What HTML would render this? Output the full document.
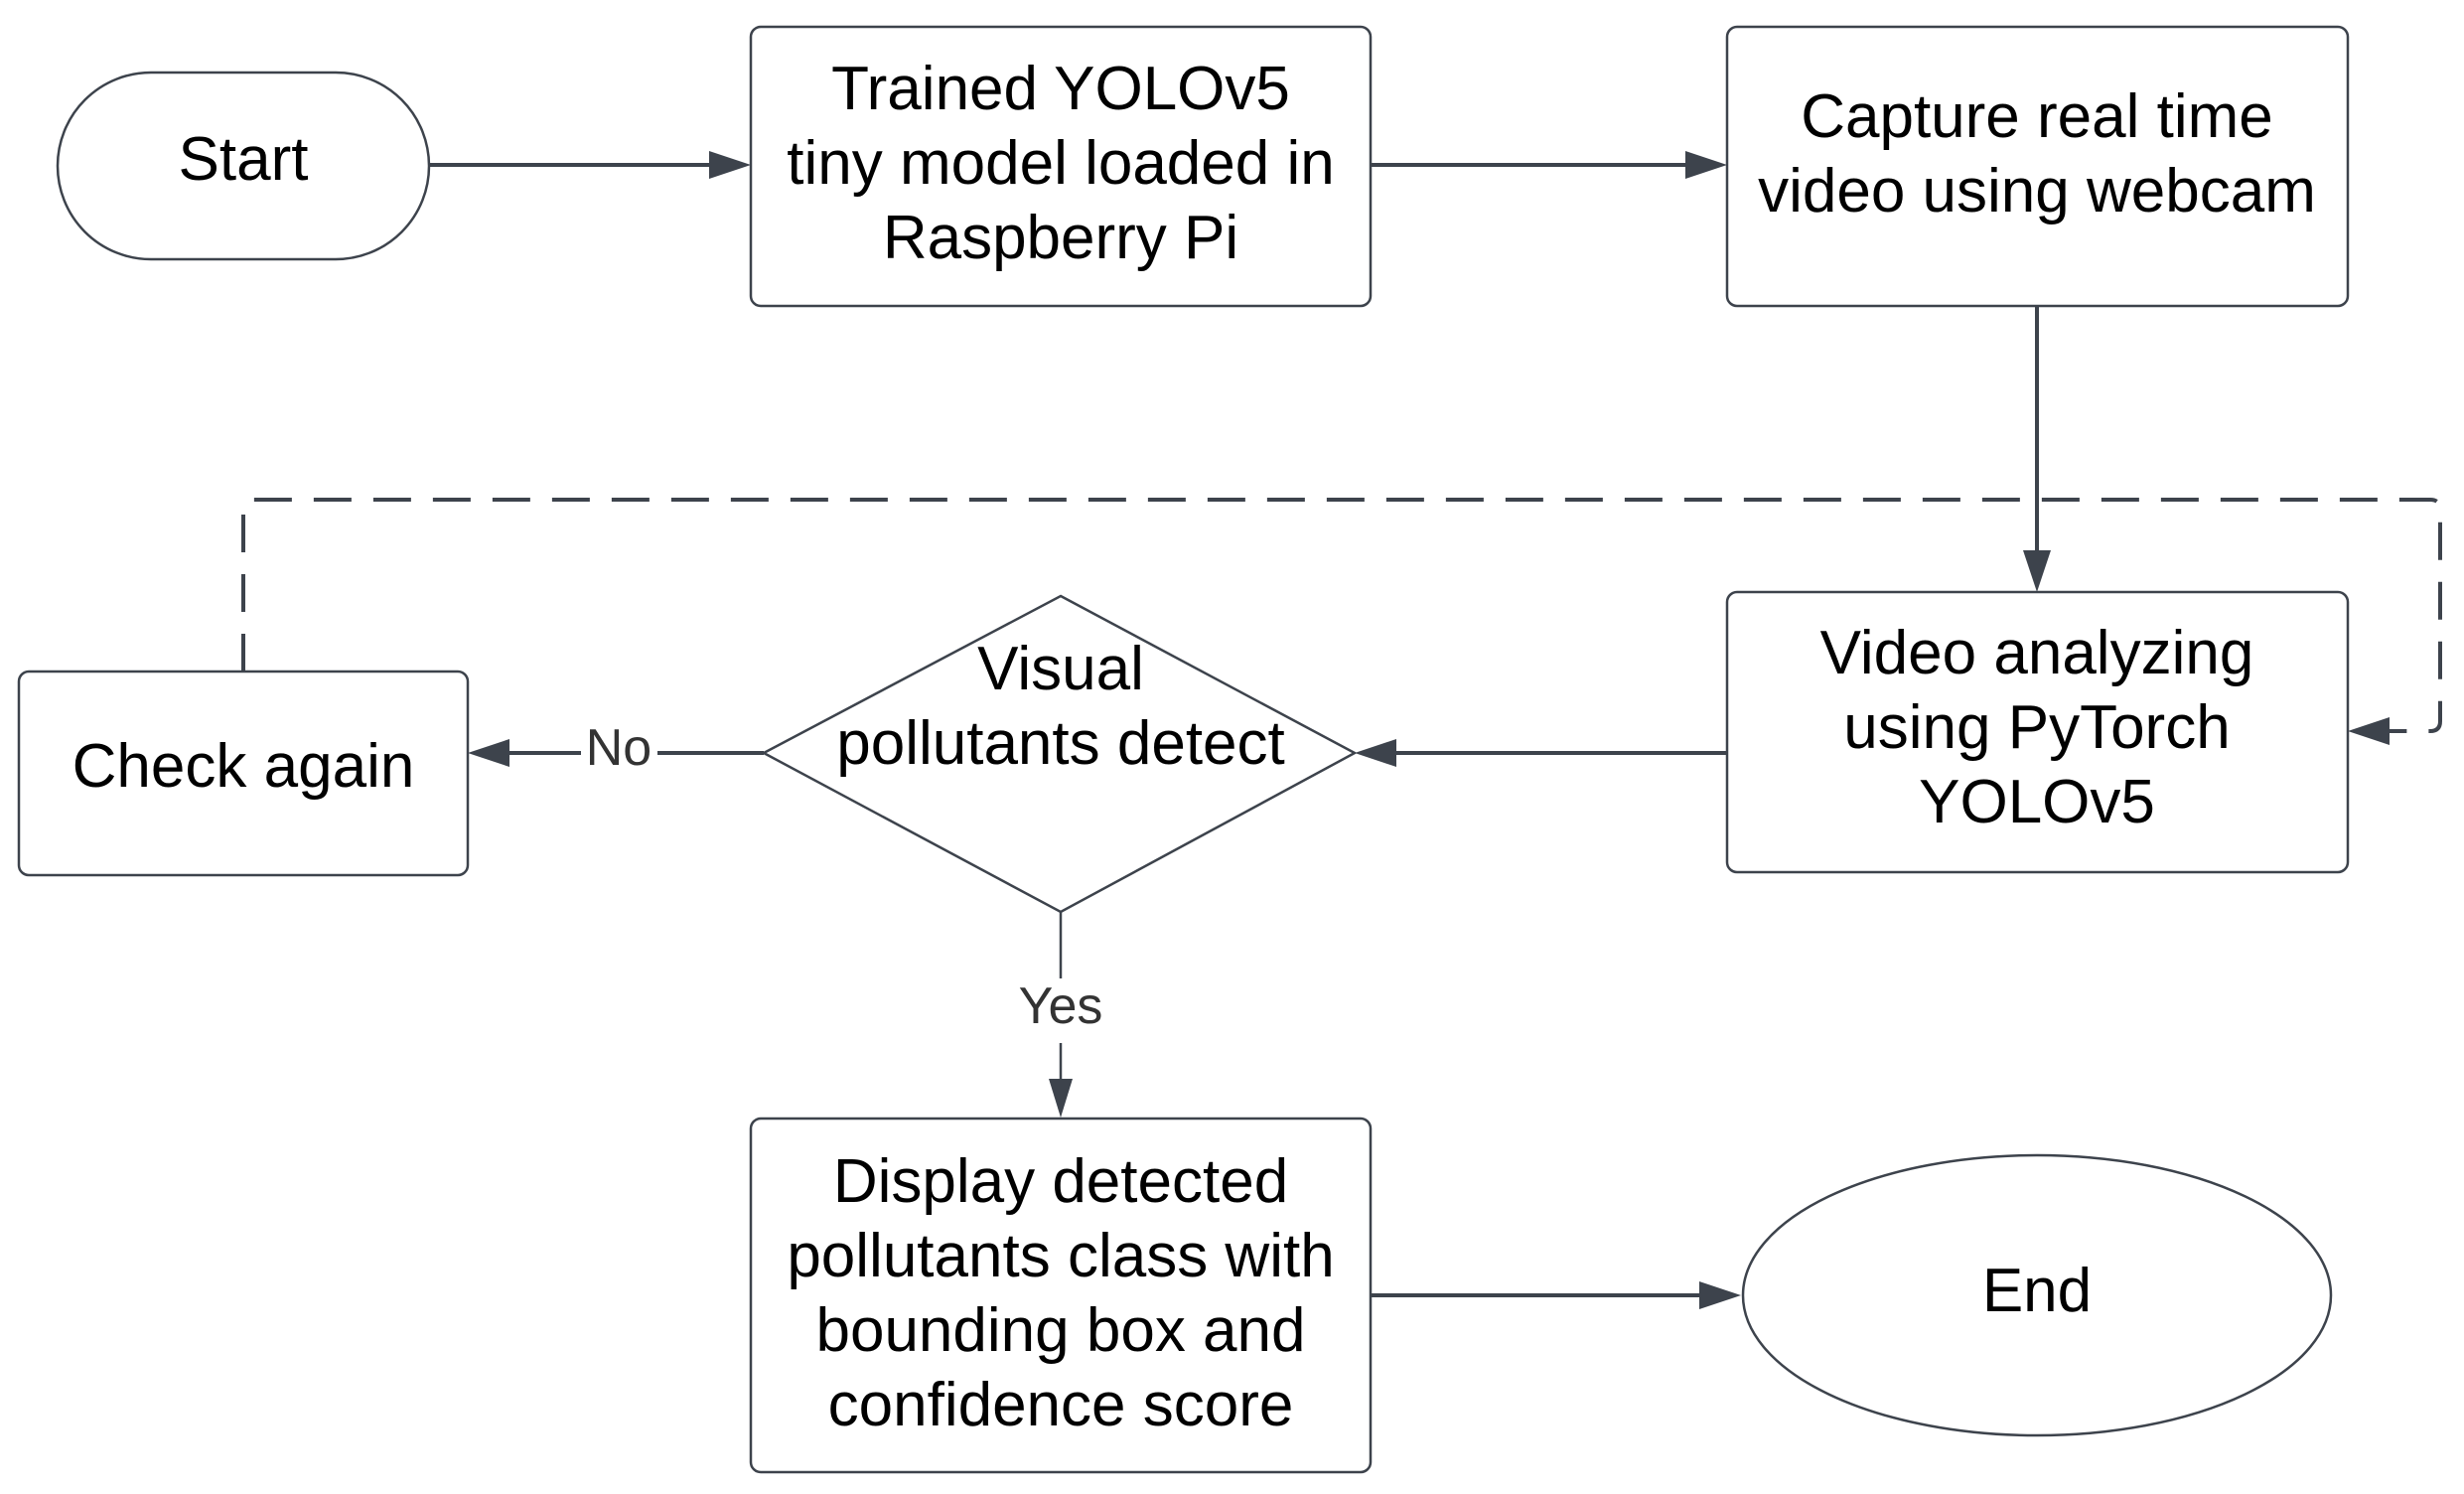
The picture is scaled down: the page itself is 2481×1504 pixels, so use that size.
<!DOCTYPE html>
<html><head><meta charset="utf-8"><style>
html,body{margin:0;padding:0;background:#fff;}
svg{display:block;}
text{font-family:"Liberation Sans",Arial,sans-serif;font-size:62px;fill:#000;text-anchor:middle;}
</style></head><body>
<svg width="2481" height="1504" viewBox="0 0 2481 1504" xmlns="http://www.w3.org/2000/svg">
<g fill="#fff" stroke="#3d434c" stroke-width="2.5">
<rect x="58" y="73" width="374" height="188" rx="94"/>
<rect x="756" y="27" width="624" height="281" rx="10"/>
<rect x="1739" y="27" width="625" height="281" rx="10"/>
<rect x="1739" y="596" width="625" height="282" rx="10"/>
<polygon points="1068,600 1364,758 1068,918 769,758"/>
<rect x="19" y="676" width="452" height="205" rx="10"/>
<rect x="756" y="1126" width="624" height="356" rx="10"/>
<ellipse cx="2051" cy="1304" rx="296" ry="141"/>
</g>
<g stroke="#3d434c" stroke-width="4" fill="none">
<line x1="432" y1="166" x2="720" y2="166"/>
<line x1="1380" y1="166" x2="1703" y2="166"/>
<line x1="2051" y1="308" x2="2051" y2="557"/>
<line x1="1739" y1="758" x2="1400" y2="758"/>
<line x1="769" y1="758" x2="662" y2="758"/>
<line x1="585" y1="758" x2="506" y2="758"/>
<line x1="1068" y1="918" x2="1068" y2="985" stroke-width="2.5"/>
<line x1="1068" y1="1050" x2="1068" y2="1090" stroke-width="2.5"/>
<line x1="1380" y1="1304" x2="1717" y2="1304"/>
<path d="M245 676 V513 Q245 503 255 503 H2447 Q2457 503 2457 513 V726 Q2457 736 2447 736 H2400" stroke-dasharray="38,22"/>
</g>
<g fill="#3d434c">
<polygon points="756,166 714,152 714,180"/>
<polygon points="1739,166 1697,152 1697,180"/>
<polygon points="2051,596 2037,554 2065,554"/>
<polygon points="1364,758 1406,744 1406,772"/>
<polygon points="471,758 513,744 513,772"/>
<polygon points="1068,1125 1056,1086 1080,1086"/>
<polygon points="1753,1304 1711,1290 1711,1318"/>
<polygon points="2364,736 2406,722 2406,750"/>
</g>
<text x="245" y="181">Start</text>
<text x="1068" y="110">Trained YOLOv5</text>
<text x="1068" y="185">tiny model loaded in</text>
<text x="1068" y="260">Raspberry Pi</text>
<text x="2051" y="138">Capture real time</text>
<text x="2051" y="213">video using webcam</text>
<text x="2051" y="678">Video analyzing</text>
<text x="2051" y="753">using PyTorch</text>
<text x="2051" y="828">YOLOv5</text>
<text x="1068" y="694">Visual</text>
<text x="1068" y="769">pollutants detect</text>
<text x="245" y="792">Check again</text>
<text x="623" y="770" style="font-size:52px;fill:#333">No</text>
<text x="1068" y="1030" style="font-size:52px;fill:#333">Yes</text>
<text x="1068" y="1210">Display detected</text>
<text x="1068" y="1285">pollutants class with</text>
<text x="1068" y="1360">bounding box and</text>
<text x="1068" y="1435">confidence score</text>
<text x="2051" y="1320">End</text>
</svg>
</body></html>
